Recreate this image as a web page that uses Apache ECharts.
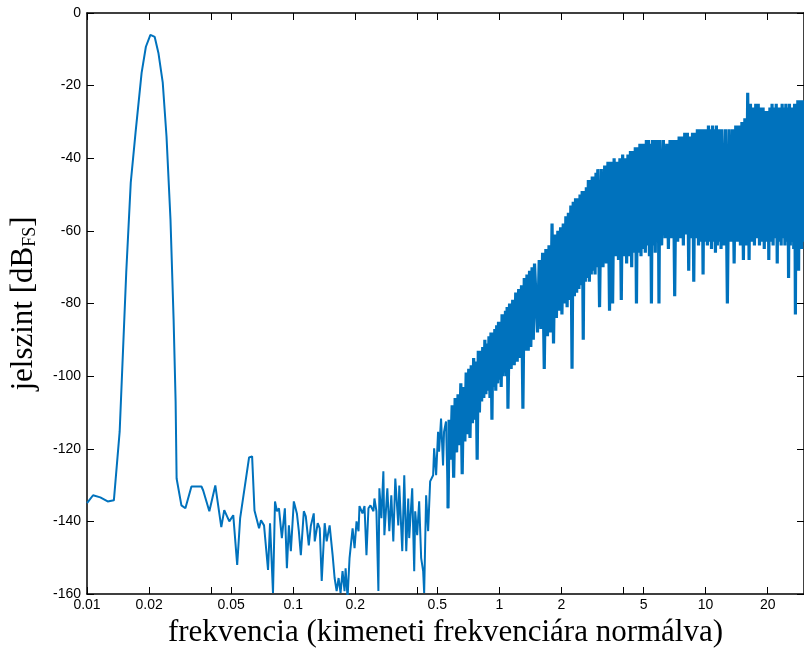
<!DOCTYPE html>
<html>
<head>
<meta charset="utf-8">
<script src="https://cdn.jsdelivr.net/npm/echarts@6/dist/echarts.min.js"></script>
<style>
  html, body { margin: 0; padding: 0; background: #fff; }
  #chart { width: 804px; height: 653px; }
</style>
</head>
<body>
<div id="chart"></div>
<script>
// jel + alacsony frekvenciás rész (nyomon követve)
var lowFreq = [
  0.0100, 0.0107, 0.0116, 0.0126, 0.0135, 0.0144, 0.0155, 0.0163, 0.0172, 0.0184,
  0.0193, 0.0203, 0.0213, 0.0222, 0.0233, 0.0243, 0.0254, 0.0263, 0.0269, 0.0272,
  0.0287, 0.0300, 0.0321, 0.0359, 0.0366, 0.0392, 0.0419, 0.0448, 0.0463, 0.0490,
  0.0512, 0.0535, 0.0553, 0.0611, 0.0632, 0.0649, 0.0683, 0.0698, 0.0722, 0.0755,
  0.0772, 0.0798, 0.0816, 0.0834, 0.0853, 0.0881, 0.0911, 0.0932, 0.0953, 0.0974,
  0.1007, 0.1042, 0.1065, 0.1089, 0.1126, 0.1151, 0.1190, 0.1217, 0.1258, 0.1272,
  0.1315, 0.1345, 0.1375, 0.1421, 0.1453, 0.1502, 0.1553, 0.1588, 0.1624, 0.1660,
  0.1697, 0.1735, 0.1774, 0.1795, 0.1835, 0.1876, 0.1941, 0.1984, 0.2028, 0.2074,
  0.2096, 0.2168, 0.2217, 0.2266, 0.2317, 0.2369, 0.2450, 0.2477, 0.2533, 0.2589,
  0.2618, 0.2677, 0.2737, 0.2768, 0.2861, 0.2925, 0.2991, 0.3058, 0.3127, 0.3233,
  0.3269, 0.3380, 0.3456, 0.3534, 0.3613, 0.3653, 0.3777, 0.3862, 0.3905, 0.3992,
  0.4082, 0.4174, 0.4268, 0.4316, 0.4412, 0.4511, 0.4614, 0.4771, 0.4824, 0.4933,
  0.5041, 0.5097, 0.5212, 0.5329, 0.5389, 0.5509, 0.5633
];
var lowLevel = [
  -135.0, -132.8, -133.4, -134.5, -134.2, -115.3, -71.4, -46.7, -32.9, -16.5,
  -9.3, -6.0, -6.6, -11.0, -19.2, -34.0, -56.8, -84.3, -107.0, -128.2,
  -135.6, -136.4, -130.4, -130.4, -131.5, -137.2, -130.1, -141.6, -136.9, -140.0,
  -138.3, -152.0, -139.1, -122.4, -122.1, -137.0, -141.9, -139.7, -141.1, -153.4,
  -140.5, -159.7, -134.5, -137.2, -136.4, -144.6, -136.4, -152.9, -141.1, -148.2,
  -134.5, -137.8, -142.7, -149.3, -137.2, -138.6, -146.6, -141.3, -137.8, -145.5,
  -140.5, -141.9, -156.4, -140.5, -145.5, -141.1, -149.3, -155.6, -159.2, -155.6,
  -159.7, -153.7, -159.2, -152.9, -161.0, -150.1, -141.9, -147.4, -140.0, -142.7,
  -135.8, -137.8, -135.8, -149.3, -136.4, -135.6, -137.2, -133.7, -137.2, -159.2,
  -130.9, -139.1, -126.2, -143.8, -130.9, -142.7, -132.8, -145.5, -128.2, -141.1,
  -130.1, -148.2, -127.3, -148.2, -133.7, -144.6, -130.9, -153.7, -137.2, -143.8,
  -134.5, -150.1, -153.7, -159.7, -132.8, -142.7, -129.0, -127.3, -119.9, -127.3,
  -115.3, -120.8, -111.7, -124.6, -115.3, -112.5, -136.4
];

// zajsáv (felső / alsó burkoló váltakozva)
var bandFreq = [
  0.57, 0.58, 0.59, 0.60, 0.61, 0.62, 0.63, 0.64, 0.65, 0.66, 0.67, 0.68,
  0.69, 0.70, 0.71, 0.72, 0.73, 0.74, 0.75, 0.76, 0.77, 0.78, 0.79, 0.80,
  0.81, 0.82, 0.83, 0.84, 0.85, 0.86, 0.87, 0.88, 0.89, 0.90, 0.91, 0.92,
  0.93, 0.94, 0.95, 0.96, 0.97, 0.98, 0.99, 1.00, 1.01, 1.02, 1.03, 1.04,
  1.05, 1.06, 1.07, 1.08, 1.09, 1.10,
  1.12, 1.14, 1.16, 1.18, 1.20, 1.22, 1.24, 1.26, 1.28, 1.30, 1.32, 1.34,
  1.36, 1.38, 1.40, 1.42, 1.44, 1.46, 1.48,
  1.53, 1.56, 1.59, 1.62, 1.65, 1.68, 1.71, 1.74, 1.77, 1.80, 1.83, 1.86,
  1.89, 1.92, 1.95, 1.98, 2.01, 2.04, 2.07, 2.10, 2.13, 2.16, 2.19, 2.22,
  2.25, 2.28, 2.31, 2.34, 2.37, 2.40, 2.43, 2.46, 2.49, 2.52, 2.55, 2.58,
  2.61, 2.64, 2.67, 2.70, 2.73, 2.76, 2.79, 2.82, 2.85, 2.88, 2.91, 2.94,
  2.97, 3.00,
  3.06, 3.12, 3.18, 3.24, 3.30, 3.36, 3.42, 3.48, 3.54, 3.60, 3.66, 3.72,
  3.78, 3.84, 3.90, 3.96, 4.02, 4.08, 4.14, 4.20, 4.26, 4.32, 4.38, 4.44,
  4.50, 4.56, 4.62, 4.68, 4.74, 4.80, 4.86, 4.92, 4.98, 5.04, 5.10, 5.16,
  5.22, 5.28, 5.34, 5.40, 5.46, 5.52, 5.58, 5.64, 5.70, 5.76, 5.82, 5.88,
  5.94, 6.00,
  6.12, 6.24, 6.36, 6.48, 6.60, 6.72, 6.84, 6.96, 7.08, 7.20, 7.32, 7.44,
  7.56, 7.68, 7.80, 7.92, 8.04, 8.16, 8.28, 8.40, 8.52, 8.64, 8.76, 8.88,
  9.00, 9.12, 9.24, 9.36, 9.48, 9.60, 9.72, 9.84, 9.96, 10.08, 10.20, 10.32,
  10.44, 10.56, 10.68, 10.80, 10.92, 11.04, 11.16, 11.28, 11.40, 11.52, 11.64, 11.76,
  11.88, 12.00,
  12.25, 12.50, 12.75, 13.00, 13.25, 13.50, 13.75, 14.00, 14.25, 14.50, 14.75, 15.00,
  15.25, 15.50, 15.75, 16.00, 16.25, 16.50, 16.75, 17.00, 17.25, 17.50, 17.75, 18.00,
  18.25, 18.50, 18.75, 19.00, 19.25, 19.50, 19.75, 20.00, 20.25, 20.50, 20.75, 21.00,
  21.25, 21.50, 21.75, 22.00, 22.25, 22.50, 22.75, 23.00, 23.25, 23.50, 23.75, 24.00,
  24.25, 24.50, 24.75, 25.00, 25.25, 25.50, 25.75, 26.00, 26.25, 26.50, 26.75, 27.00,
  27.25, 27.50, 27.75, 28.00, 28.25, 28.50, 28.75, 29.00, 29.25, 29.50, 29.75, 30.00
];
var bandLevel = [
  -112, -123, -108, -128, -106, -121, -105, -119, -102, -127, -103, -118,
  -99, -116, -98, -117, -97, -113, -95, -112, -96, -123, -93, -110,
  -93, -107, -92, -106, -90, -105, -91, -104, -89, -106, -88, -112,
  -88, -103, -87, -104, -86, -102, -85, -101, -85, -103, -83, -100,
  -83, -99, -82, -100, -81, -109,
  -80, -98, -79, -97, -77, -96, -76, -95, -75, -109, -73, -93,
  -72, -93, -71, -92, -70, -90, -69,
  -88, -68, -87, -66, -98, -65, -89, -64, -88, -58, -91, -61,
  -84, -60, -82, -59, -83, -58, -80, -56, -81, -55, -79, -53,
  -98, -52, -78, -51, -77, -51, -76, -50, -75, -49, -90, -49,
  -74, -48, -73, -46, -74, -46, -72, -45, -71, -45, -72, -44,
  -70, -43,
  -81, -43, -70, -42, -69, -41, -82, -41, -80, -40, -67, -41,
  -68, -40, -79, -39, -67, -40, -69, -39, -67, -38, -70, -38,
  -66, -37, -80, -37, -66, -36, -67, -36, -65, -36, -66, -35,
  -64, -35, -67, -36, -80, -35, -64, -35, -66, -35, -63, -35,
  -80, -35,
  -64, -35, -62, -36, -65, -35, -62, -35, -78, -35, -63, -34,
  -62, -34, -64, -33, -61, -33, -71, -34, -62, -33, -74, -33,
  -62, -32, -64, -32, -63, -32, -72, -32, -63, -32, -64, -31,
  -63, -32, -65, -31, -63, -32, -66, -31, -64, -32, -63, -32,
  -65, -32,
  -64, -32, -80, -32, -63, -32, -69, -31, -63, -31, -64, -30,
  -68, -29, -64, -22, -68, -25, -63, -26, -64, -25, -62, -25,
  -64, -26, -63, -26, -65, -27, -63, -27, -68, -26, -63, -25,
  -64, -26, -62, -25, -69, -26, -63, -26, -64, -25, -62, -26,
  -64, -25, -63, -26, -73, -25, -64, -26, -63, -26, -65, -25,
  -83, -25, -64, -24, -71, -25, -64, -24, -65, -24, -63, -24
];

var xTicks = [0.01, 0.02, 0.04, 0.05, 0.1, 0.2, 0.4, 0.5, 1, 2, 4, 5, 10, 20];
var xLabels = [0.01, 0.02, 0.05, 0.1, 0.2, 0.5, 1, 2, 5, 10, 20];

var lowPoints = lowFreq.map(function (f, i) { return [f, lowLevel[i]]; });
// the band continues from the last traced point
var bandPoints = [lowPoints[lowPoints.length - 1]].concat(
  bandFreq.map(function (f, i) { return [f, bandLevel[i]]; })
);

var myChart = echarts.init(document.getElementById('chart'));
var axisLine = { show: true, onZero: false, lineStyle: { color: '#000', width: 1.5 } };
var tickLine = { color: '#000', width: 1 };
var blue = '#0072BD';

var option = {
  animation: false,
  backgroundColor: '#fff',
  grid: { left: 84, top: 13, width: 720, height: 581 },
  xAxis: [
    {
      type: 'log', logBase: 10, min: 0.01, max: 30,
      position: 'bottom',
      axisLine: axisLine,
      axisTick: { show: true, inside: true, length: 7, customValues: xTicks, lineStyle: tickLine },
      axisLabel: {
        show: true, customValues: xLabels, margin: 4,
        color: '#000', fontSize: 14, fontFamily: 'Liberation Sans, Arial, sans-serif',
        formatter: function (v) { return String(parseFloat(Number(v).toPrecision(6))); }
      },
      splitLine: { show: false },
      name: 'frekvencia (kimeneti frekvenciára normálva)',
      nameLocation: 'middle',
      nameGap: 22,
      nameTextStyle: { color: '#000', fontSize: 31, fontFamily: 'Liberation Serif, Times New Roman, serif' }
    },
    {
      type: 'log', logBase: 10, min: 0.01, max: 30,
      position: 'top',
      axisLine: axisLine,
      axisTick: { show: true, inside: true, length: 7, customValues: xTicks, lineStyle: tickLine },
      axisLabel: { show: false },
      splitLine: { show: false }
    }
  ],
  yAxis: [
    {
      type: 'value', min: -160, max: 0, interval: 20,
      position: 'left',
      axisLine: axisLine,
      axisTick: { show: true, inside: true, length: 7, lineStyle: tickLine },
      axisLabel: { color: '#000', fontSize: 14, margin: 6, fontFamily: 'Liberation Sans, Arial, sans-serif' },
      splitLine: { show: false },
      name: '{a|jelszint [dB}{b|FS}{a|]}',
      nameLocation: 'middle',
      nameRotate: 90,
      nameGap: 48,
      nameTextStyle: {
        color: '#000',
        rich: {
          a: { fontSize: 31, fontFamily: 'Liberation Serif, Times New Roman, serif', color: '#000' },
          b: { fontSize: 18, fontFamily: 'Liberation Serif, Times New Roman, serif', color: '#000', verticalAlign: 'bottom', padding: [12, 0, 0, 0] }
        }
      }
    },
    {
      type: 'value', min: -160, max: 0, interval: 20,
      position: 'right',
      axisLine: axisLine,
      axisTick: { show: true, inside: true, length: 7, lineStyle: tickLine },
      axisLabel: { show: false },
      splitLine: { show: false }
    }
  ],
  series: [
    {
      type: 'line',
      data: lowPoints,
      showSymbol: false,
      symbol: 'none',
      clip: true,
      lineStyle: { color: blue, width: 2 },
      itemStyle: { color: blue }
    },
    {
      type: 'line',
      data: bandPoints,
      showSymbol: false,
      symbol: 'none',
      clip: true,
      lineStyle: { color: blue, width: 3.2, join: 'bevel' },
      itemStyle: { color: blue }
    }
  ]
};

myChart.setOption(option);
</script>
</body>
</html>
